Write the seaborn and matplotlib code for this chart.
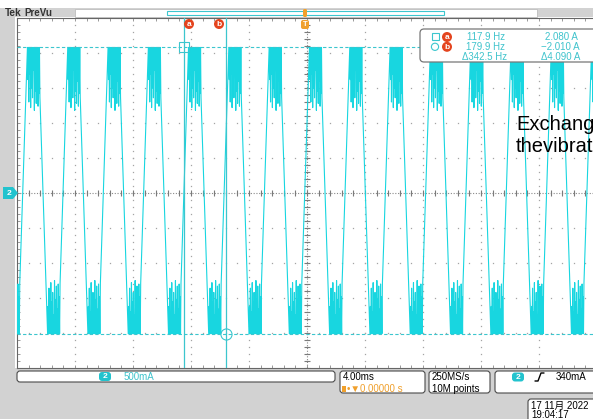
import numpy as np
import pandas as pd
import matplotlib
matplotlib.use("Agg")
import matplotlib.pyplot as plt
import matplotlib.transforms as mtransforms
from matplotlib.patches import FancyBboxPatch, Rectangle, Circle, Polygon
from matplotlib.lines import Line2D
import seaborn as sns

# ---- acquisition settings shown on the scope
time_per_div_ms = 4.0
amps_per_div = 0.5
trigger_level_a = 0.34

# ---- channel 2 coil current: start of each high plateau (ms from trigger)
top_starts_ms = [-22.06, -19.28, -16.50, -13.72, -10.94, -8.17, -5.39, -2.61,
                 0.17, 2.95, 5.73, 8.51, 11.29, 14.07, 16.85, 19.63]
plateau_ms = 0.86
edge_ms = 0.53
top_level_a = 2.08
bottom_level_a = -2.01
# lower tips of the ringing on the high plateau, upper tips on the low plateau
top_ripple_a = [1.62, 1.30, 1.70, 1.22, 1.50, 1.36, 1.75, 1.18, 1.45, 1.28,
                1.60, 1.24, 1.42, 1.37]
bottom_ripple_a = [-1.62, -1.36, -1.70, -1.28, -1.55, -1.42, -1.74, -1.25,
                   -1.52, -1.33, -1.66, -1.30, -1.48, -1.29]

# ---- cursor readouts
cursor_a_hz = 117.9
cursor_b_hz = 179.9
cursor_delta_hz = 342.5
cursor_a_amp = 2.080
cursor_b_amp = -2.010
cursor_delta_amp = 4.090

# ---- build the trace point list cycle by cycle
t_pts, i_pts = [], []
for s in top_starts_ms:
    step = plateau_ms / (len(top_ripple_a) - 0.5)
    for j, lo in enumerate(top_ripple_a):
        t_pts += [s + j * step, s + (j + 0.5) * step]
        i_pts += [top_level_a, lo]
    b = s + plateau_ms + edge_ms
    step = plateau_ms / (len(bottom_ripple_a) - 0.5)
    for j, hi in enumerate(bottom_ripple_a):
        t_pts += [b + j * step, b + (j + 0.5) * step]
        i_pts += [bottom_level_a, hi]
trace = pd.DataFrame({"t_ms": t_pts, "current_a": i_pts})

# ---- figure
W, H = 593, 419
sns.set_style("white")
plt.rcParams["font.family"] = ["Liberation Sans", "DejaVu Sans", "Noto Sans CJK SC"]
fig = plt.figure(figsize=(W / 100, H / 100), dpi=100)
fig.patch.set_facecolor("white")
pix = mtransforms.Affine2D().scale(1 / W, -1 / H).translate(0, 1) + fig.transFigure

TRACE = "#18d6e0"
CUR = "#3cc6ce"
CYTXT = "#3fc3cc"
BADGE = "#22c3ce"
ORANGE = "#f0a02c"
REDOR = "#e4441e"
PANEL = "#d2d2d2"
EDGE = "#4a4a4a"


def rect(x0, y0, x1, y1, fc, ec="none", lw=0.0, z=-1):
    fig.add_artist(Rectangle((x0, y0), x1 - x0, y1 - y0, fc=fc, ec=ec, lw=lw,
                             transform=pix, zorder=z))


def rbox(x0, y0, x1, y1, fc="white", ec=EDGE, lw=0.8, r=3, z=5):
    fig.add_artist(FancyBboxPatch((x0, y0), x1 - x0, y1 - y0,
                                  boxstyle=f"round,pad=0,rounding_size={r}",
                                  fc=fc, ec=ec, lw=lw, transform=pix, zorder=z))


def txt(x, y, s, size=7, color="black", ha="left", va="center", weight="normal", z=7):
    fig.text(x, y, s, transform=pix, fontsize=size, color=color, ha=ha, va=va,
             fontweight=weight, zorder=z)


def badge(x, y, label, fc, size=6):
    rbox(x - 6, y - 4.5, x + 6, y + 4.5, fc=fc, ec="none", lw=0, r=3, z=6)
    txt(x, y + 0.3, label, size=size, color="white", ha="center", weight="bold")


def disc(x, y, label, fc=REDOR):
    fig.add_artist(Circle((x, y), 5, fc=fc, ec="none", transform=pix, zorder=8))
    txt(x, y + 0.3, label, size=6, color="white", ha="center", weight="bold", z=9)


# panels around the graticule
rect(0, 8, 15, H, PANEL)
rect(0, 368, W, H, PANEL)
rect(0, 8, W, 17, PANEL)
rect(75, 9, 537, 17, "white", ec="#bdbdbd", lw=0.6, z=0)
rect(167, 11.5, 444, 15.5, "white", ec=CUR, lw=0.8, z=1)
txt(5, 13, "Tek", size=7.2, weight="bold", color="#333333")
txt(24, 13, "PreVu", size=7, weight="bold", color="#333333")

# ---- graticule axes
ax = fig.add_axes([17 / W, 1 - 368 / H, 580 / W, 350 / H])
ax.set_facecolor("white")
xmax = 5 * time_per_div_ms
ymax = 5 * amps_per_div
ax.set_xlim(-xmax, xmax)
ax.set_ylim(-ymax, ymax)

x_major = np.arange(-xmax, xmax + 1e-9, time_per_div_ms)
y_major = np.arange(-ymax, ymax + 1e-9, amps_per_div)
x_minor = np.arange(-xmax, xmax + 1e-9, time_per_div_ms / 5)
y_minor = np.arange(-ymax, ymax + 1e-9, amps_per_div / 5)

for xv in x_major[1:-1]:
    ax.plot(np.full_like(y_minor, xv), y_minor, ls="none", marker="s", ms=0.9,
            color="#a4a4a4", mew=0, zorder=1)
for yv in y_major[1:-1]:
    ax.plot(x_minor, np.full_like(x_minor, yv), ls="none", marker="s", ms=0.9,
            color="#a4a4a4", mew=0, zorder=1)
ax.axhline(0, color="#8a8a8a", lw=0.8, ls=(0, (1, 1.5)), zorder=1)
ax.axvline(0, color="#8a8a8a", lw=0.8, ls=(0, (1, 1.5)), zorder=1)
ax.plot(x_minor, np.zeros_like(x_minor), ls="none", marker="|", ms=5,
        color="#7a7a7a", mew=0.8, zorder=1)
ax.plot(np.zeros_like(y_minor), y_minor, ls="none", marker="_", ms=5,
        color="#7a7a7a", mew=0.8, zorder=1)

ax.set_xticks(x_minor)
ax.set_yticks(y_minor)
ax.tick_params(direction="in", length=2.5, width=0.6, color="#888888",
               top=True, right=True, bottom=True, left=True,
               labelbottom=False, labelleft=False)
for sp in ax.spines.values():
    sp.set_color("#666666")
    sp.set_linewidth(0.8)

# ---- the current trace
sns.lineplot(data=trace, x="t_ms", y="current_a", ax=ax, sort=False,
             estimator=None, color=TRACE, lw=0.8, legend=False, zorder=3)
ax.set_xlabel("")
ax.set_ylabel("")

# ---- cursors
t_a = -1000.0 / cursor_a_hz
t_b = -1000.0 / cursor_b_hz
ax.axvline(t_a, color=CUR, lw=0.9, zorder=4)
ax.axvline(t_b, color=CUR, lw=0.9, zorder=4)
ax.axhline(cursor_a_amp, color=CUR, lw=0.8, ls=(0, (3, 2)), zorder=4)
ax.axhline(cursor_b_amp, color=CUR, lw=0.8, ls=(0, (3, 2)), zorder=4)
ax.plot([t_a], [cursor_a_amp], marker="s", ms=7, mfc="none", mec=CUR, mew=0.8, zorder=5)
ax.plot([t_b], [cursor_b_amp], marker="o", ms=8, mfc="none", mec=CUR, mew=0.8, zorder=5)

disc(189, 24, "a")
disc(219, 24, "b")

# trigger position marker
fig.add_artist(FancyBboxPatch((303, 9), 4, 8, boxstyle="round,pad=0,rounding_size=1.5",
                              fc=ORANGE, ec="none", transform=pix, zorder=8))
fig.add_artist(FancyBboxPatch((301, 20), 8, 9, boxstyle="round,pad=0,rounding_size=2",
                              fc=ORANGE, ec="none", transform=pix, zorder=8))
txt(305, 24.8, "T", size=5.5, color="white", ha="center", weight="bold", z=9)

# channel 2 ground marker
fig.add_artist(Polygon([(3, 187), (13, 187), (18, 193), (13, 199), (3, 199)],
                       closed=True, fc=BADGE, ec="none", transform=pix, zorder=8))
txt(9, 193.3, "2", size=6, color="white", ha="center", weight="bold", z=9)

# ---- cursor readout box
rbox(420, 29, 606, 62, fc="white", ec="#777777", lw=0.9, r=4, z=6)
fig.add_artist(Rectangle((431.5, 33.5), 7, 7, fc="none", ec=CUR, lw=0.8,
                         transform=pix, zorder=8))
fig.add_artist(Circle((435, 46.8), 3.6, fc="none", ec=CUR, lw=0.8,
                      transform=pix, zorder=8))
disc(447, 37, "a")
disc(447, 46.8, "b")
txt(486, 36.5, f"{cursor_a_hz:.1f} Hz", color=CYTXT, ha="center")
txt(486, 46.8, f"{cursor_b_hz:.1f} Hz", color=CYTXT, ha="center")
txt(485, 57.2, f"Δ{cursor_delta_hz:.1f} Hz", color=CYTXT, ha="center")
txt(561, 36.5, f"{cursor_a_amp:.3f} A", color=CYTXT, ha="center")
txt(560, 46.8, f"\u2212{abs(cursor_b_amp):.3f} A", color=CYTXT, ha="center")
txt(561, 57.2, f"Δ{cursor_delta_amp:.3f} A", color=CYTXT, ha="center")

# ---- overlay caption
txt(516, 130, "Exchang", size=14.5, va="baseline", z=10)
txt(516, 152, "thevibrat", size=14.5, va="baseline", z=10)

# ---- bottom status boxes
rbox(17, 371, 335, 382)
badge(105, 376.5, "2", BADGE)
txt(124, 376.8, f"{int(amps_per_div * 1000)}mA", color=CYTXT)

rbox(340, 371, 425, 393)
txt(343, 377, f"{time_per_div_ms:.2f}ms")
fig.add_artist(Rectangle((342, 386), 4, 6, fc=ORANGE, ec="none", transform=pix, zorder=8))
txt(347, 389.3, "\u2022\u25bc0.00000 s", color=ORANGE)

rbox(429, 371, 490, 393)
txt(432, 377, "250MS/s")
txt(432, 389.3, "10M points")

rbox(495, 371, 606, 393)
badge(518, 377, "2", BADGE)
fig.add_artist(Line2D([535, 538, 541, 544], [381, 381, 373, 373], color="black",
                      lw=1.0, transform=pix, zorder=8))
txt(556, 377, f"{int(round(trigger_level_a * 1000))}mA")

rbox(528, 399, 606, 425)
txt(531, 406, "17 11月 2022", size=7)
txt(531, 414.5, "19:04:17", size=7)

fig.savefig("out.png", dpi=100, facecolor=fig.get_facecolor())
